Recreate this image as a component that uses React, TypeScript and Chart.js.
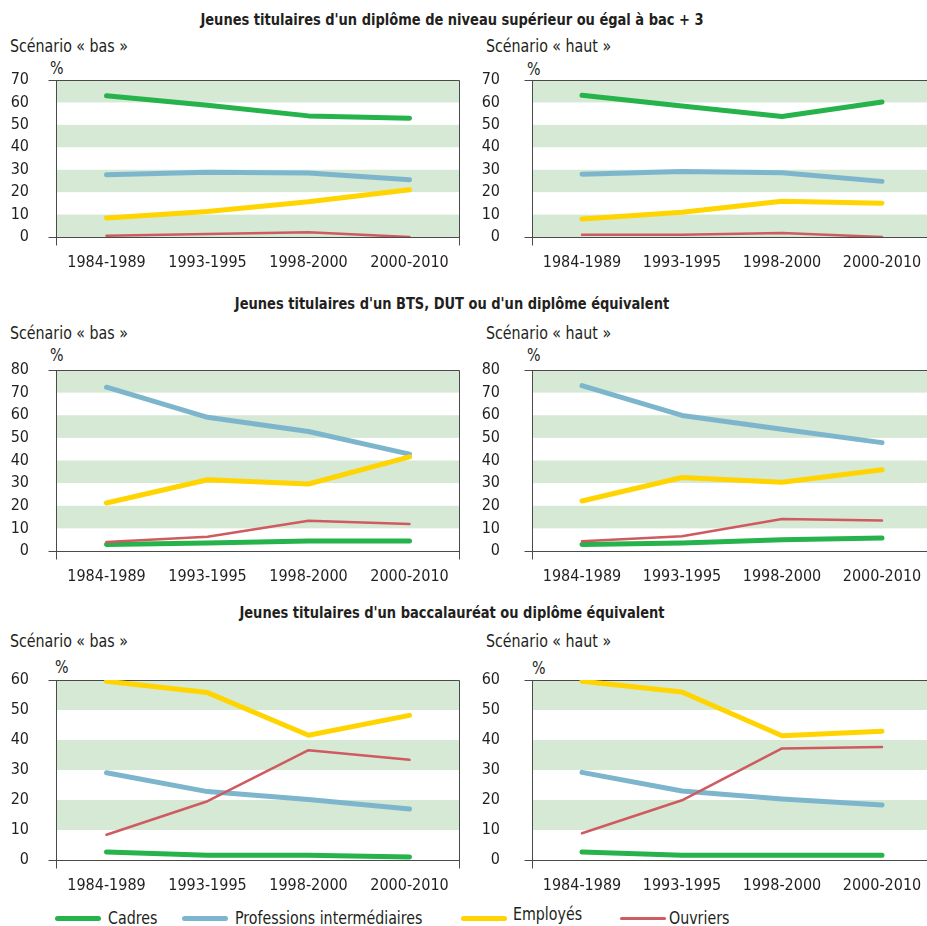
import React, { useEffect, useRef } from "react";
import { Chart, registerables } from "chart.js";
Chart.register(...registerables);

const FONT = '"DejaVu Sans Condensed", "DejaVu Sans", sans-serif';
const TEXT = "#231f20";
const BAND = "#d5e9d4";
const FRAME = "#4a4a4a";
const TICK_SIZE = 16;

const categories = ["1984-1989", "1993-1995", "1998-2000", "2000-2010"];
const legendLabels = ["Cadres", "Professions intermédiaires", "Employés", "Ouvriers"];
const seriesColors = ["#27b34b", "#7db6cc", "#ffd400", "#cf5a60"];
const seriesWidths = [5, 5, 5, 2.5];
const seriesOrder = [3, 2, 1, 0];

const sectionTitles = [
  "Jeunes titulaires d'un diplôme de niveau supérieur ou égal à bac + 3",
  "Jeunes titulaires d'un BTS, DUT ou d'un diplôme équivalent",
  "Jeunes titulaires d'un baccalauréat ou diplôme équivalent",
];
const scenarioLabels = ["Scénario « bas »", "Scénario « haut »"];
const unitLabel = "%";
const yMaxByRow = [70, 80, 60];

// bac + 3, scénario bas
const supBasCadres = [63, 58.7, 54, 53];
const supBasProf = [27.7, 28.9, 28.5, 25.5];
const supBasEmployes = [8.5, 11.4, 15.7, 21.1];
const supBasOuvriers = [0.6, 1.3, 2.1, 0];
// bac + 3, scénario haut
const supHautCadres = [63.2, 58.4, 53.7, 60.2];
const supHautProf = [28, 29.2, 28.6, 24.8];
const supHautEmployes = [8, 11, 15.9, 15.1];
const supHautOuvriers = [1, 1, 1.8, 0];
// BTS/DUT, scénario bas
const btsBasCadres = [2.9, 3.5, 4.4, 4.4];
const btsBasProf = [72.4, 59.1, 52.8, 42.8];
const btsBasEmployes = [21.2, 31.5, 29.6, 41.6];
const btsBasOuvriers = [4, 6.3, 13.4, 11.9];
// BTS/DUT, scénario haut
const btsHautCadres = [2.9, 3.5, 5, 5.7];
const btsHautProf = [73.1, 59.9, 53.8, 47.9];
const btsHautEmployes = [22.1, 32.5, 30.4, 35.9];
const btsHautOuvriers = [4.3, 6.5, 14.1, 13.5];
// bac, scénario bas
const bacBasCadres = [2.7, 1.6, 1.6, 1];
const bacBasProf = [29.1, 22.8, 20.2, 17];
const bacBasEmployes = [59.6, 55.8, 41.6, 48.2];
const bacBasOuvriers = [8.4, 19.6, 36.6, 33.4];
// bac, scénario haut
const bacHautCadres = [2.7, 1.6, 1.6, 1.6];
const bacHautProf = [29.2, 23, 20.3, 18.3];
const bacHautEmployes = [59.6, 56, 41.4, 42.9];
const bacHautOuvriers = [8.9, 19.9, 37.2, 37.7];

const panelSeries = [
  [
    [supBasCadres, supBasProf, supBasEmployes, supBasOuvriers],
    [supHautCadres, supHautProf, supHautEmployes, supHautOuvriers],
  ],
  [
    [btsBasCadres, btsBasProf, btsBasEmployes, btsBasOuvriers],
    [btsHautCadres, btsHautProf, btsHautEmployes, btsHautOuvriers],
  ],
  [
    [bacBasCadres, bacBasProf, bacBasEmployes, bacBasOuvriers],
    [bacHautCadres, bacHautProf, bacHautEmployes, bacHautOuvriers],
  ],
];

// layout
const rowPlotTop = [80, 370, 680];
const rowPlotBottom = [237, 551, 860];
const rowTitleY = [20, 304, 613];
const rowScenarioY = [46, 333, 641];
const rowPctY = [[68, 69], [355, 355], [667, 668]];
const colCanvasX = [0, 470];
const colAxisW = [56, 62];
const colPadRight = [10, 8];
const colLabelPad = [27, 32];
const colScenarioX = [10, 486];
const colPctX = [[50, 527], [50, 527], [55, 532]];
const X_AXIS_H = 40;
const PAD_TOP = 10;

const framePlugin = {
  id: "frameBands",
  beforeDatasetsDraw(chart: any) {
    const { ctx, chartArea: a, scales } = chart;
    const y = scales.y;
    const max = y.max;
    ctx.save();
    ctx.fillStyle = BAND;
    for (let v = max; v > 0; v -= 20) {
      const t = y.getPixelForValue(v);
      const b = y.getPixelForValue(Math.max(v - 10, 0));
      ctx.fillRect(a.left, t, a.right - a.left, b - t);
    }
    ctx.strokeStyle = FRAME;
    ctx.lineWidth = 1;
    const L = Math.round(a.left) + 0.5;
    const R = Math.round(a.right) - 0.5;
    const T = Math.round(a.top) + 0.5;
    const B = Math.round(a.bottom) + 0.5;
    ctx.beginPath();
    ctx.moveTo(L - 8, T);
    ctx.lineTo(R, T);
    ctx.moveTo(L - 8, B);
    ctx.lineTo(R, B);
    ctx.moveTo(L, T);
    ctx.lineTo(L, B + 8);
    ctx.moveTo(R, T);
    ctx.lineTo(R, B + 8);
    ctx.stroke();
    ctx.restore();
  },
};

function Panel({ row, col }: { row: number; col: number }) {
  const ref = useRef<HTMLCanvasElement>(null);
  const top = rowPlotTop[row] - PAD_TOP;
  const h = PAD_TOP + (rowPlotBottom[row] - rowPlotTop[row]) + X_AXIS_H;
  const w = 470;
  useEffect(() => {
    const series = panelSeries[row][col];
    const chart = new Chart(ref.current as HTMLCanvasElement, {
      type: "line",
      data: {
        labels: categories,
        datasets: series.map((d, i) => ({
          label: legendLabels[i],
          data: d,
          borderColor: seriesColors[i],
          backgroundColor: seriesColors[i],
          borderWidth: seriesWidths[i],
          pointRadius: 0,
          tension: 0,
          borderCapStyle: "round",
          borderJoinStyle: "round",
          order: seriesOrder[i],
          fill: false,
        })),
      },
      options: {
        responsive: false,
        animation: false,
        devicePixelRatio: 1,
        layout: { padding: { top: PAD_TOP, right: colPadRight[col], left: 0, bottom: 0 } },
        plugins: { legend: { display: false }, tooltip: { enabled: false } },
        scales: {
          x: {
            offset: true,
            grid: { display: false, drawTicks: false },
            border: { display: false },
            ticks: {
              color: TEXT,
              font: { family: FONT, size: TICK_SIZE },
              padding: 16,
              maxRotation: 0,
              autoSkip: false,
            },
            afterFit: (s: any) => {
              s.height = X_AXIS_H;
              s.paddingLeft = 0;
              s.paddingRight = 0;
            },
          },
          y: {
            min: 0,
            max: yMaxByRow[row],
            grid: { display: false, drawTicks: false },
            border: { display: false },
            ticks: {
              stepSize: 10,
              autoSkip: false,
              color: TEXT,
              font: { family: FONT, size: TICK_SIZE },
              padding: colLabelPad[col],
            },
            afterFit: (s: any) => {
              s.width = colAxisW[col];
              s.paddingTop = 0;
              s.paddingBottom = 0;
            },
          },
        },
      } as any,
      plugins: [framePlugin],
    });
    return () => chart.destroy();
  }, [row, col]);
  return (
    <canvas
      ref={ref}
      width={w}
      height={h}
      style={{ position: "absolute", left: colCanvasX[col], top, width: w, height: h }}
    />
  );
}

function Txt({ x, cy, children, bold, center, size, sx }: any) {
  const style: any = {
    position: "absolute",
    top: cy - 10,
    lineHeight: "20px",
    fontSize: size || 17,
    fontWeight: bold ? "bold" : "normal",
    whiteSpace: "nowrap",
    color: TEXT,
    transform: `scaleX(${sx || 0.93})`,
    transformOrigin: center ? "452px 50%" : "0 50%",
  };
  if (center) {
    style.left = 0;
    style.width = 904;
    style.textAlign = "center";
  } else {
    style.left = x;
  }
  return <div style={style}>{children}</div>;
}

const legendLineX = [55, 182, 461, 620];
const legendTextX = [108, 235, 513, 669];
const legendY = [918, 918, 914, 918];

export default function App() {
  return (
    <div
      style={{
        position: "absolute",
        left: 0,
        top: 0,
        width: 927,
        height: 926,
        overflow: "hidden",
        background: "#fff",
        fontFamily: FONT,
      }}
    >
      {[0, 1, 2].map((row) => (
        <React.Fragment key={row}>
          <Txt center bold cy={rowTitleY[row]} size={16} sx={0.905}>
            {sectionTitles[row]}
          </Txt>
          {[0, 1].map((col) => (
            <React.Fragment key={col}>
              <Txt x={colScenarioX[col]} cy={rowScenarioY[row]}>
                {scenarioLabels[col]}
              </Txt>
              <Txt x={colPctX[row][col]} cy={rowPctY[row][col]}>
                {unitLabel}
              </Txt>
              <Panel row={row} col={col} />
            </React.Fragment>
          ))}
        </React.Fragment>
      ))}
      {legendLabels.map((lab, i) => (
        <React.Fragment key={lab}>
          <div
            style={{
              position: "absolute",
              left: legendLineX[i],
              top: 918 - (i === 3 ? 1.5 : 2.5),
              width: 46,
              height: i === 3 ? 3 : 5,
              borderRadius: 3,
              background: seriesColors[i],
            }}
          />
          <Txt x={legendTextX[i]} cy={legendY[i]}>
            {lab}
          </Txt>
        </React.Fragment>
      ))}
    </div>
  );
}
